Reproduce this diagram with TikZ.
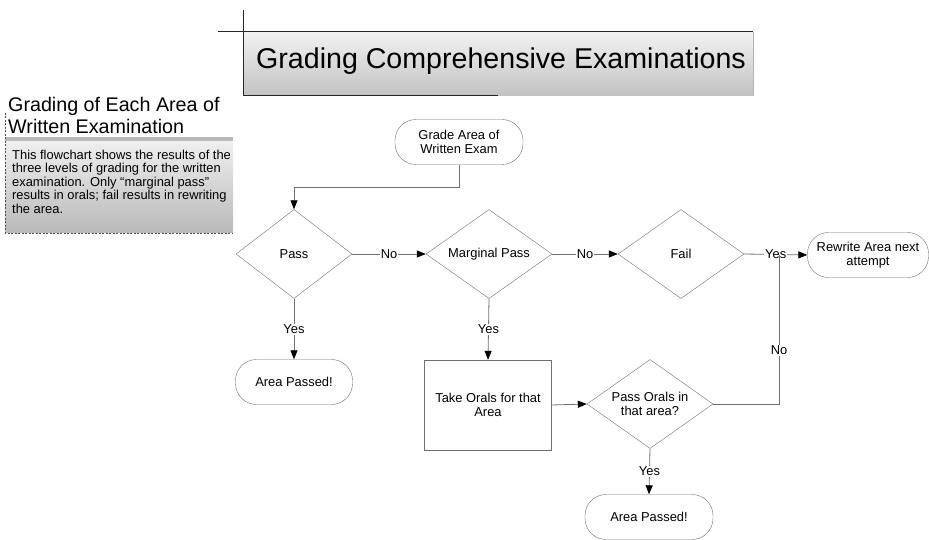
\documentclass[tikz,border=0pt]{standalone}
\usepackage{fontspec}
\setmainfont{Liberation Sans}
\usetikzlibrary{arrows.meta}
\usetikzlibrary{shapes}
\usetikzlibrary{positioning}
\definecolor{lineg}{HTML}{707070}
\providecommand{\bodyfont}{\fontsize{12.9}{14}\selectfont}

\begin{document}
\begin{tikzpicture}[x=1pt,y=-1pt,>={Triangle[length=9pt,width=7pt,color=black]}]
      \useasboundingbox (0,0) rectangle (929,540);
      \tikzstyle{terminal}=[draw=lineg,rectangle,rounded corners=21pt,minimum height=45pt,align=center]
      \tikzstyle{decision}=[draw=lineg,diamond,aspect=1.4,minimum width=126pt,minimum height=89pt,inner sep=0pt,align=center]
      \tikzstyle{process}=[draw=lineg,rectangle,minimum width=127pt,minimum height=90pt,align=center]
      \tikzstyle{conn}=[draw=lineg,line width=0.8pt]
      \tikzstyle{lab}=[fill=white,inner sep=1pt]

      % title banner
      \shade[top color=gray!10,bottom color=gray!48] (243,32) rectangle (753,96);
      \draw[gray!60,line width=0.6pt] (753,32) -- (753,96);
      \draw[black!85,line width=1pt] (218,32) -- (753,32);
      \draw[black!85,line width=1pt] (243,10) -- (243,96);
      \draw[black!85,line width=1pt] (243,96) -- (498,96);
      \node[inner sep=0pt,font=\fontsize{28.6}{32}\selectfont] (title) at (501,61) {Grading Comprehensive Examinations};

      % side note
      \shade[top color=gray!12,bottom color=gray!55] (5,140) rectangle (233,233);
      \fill[gray!55] (5,137.5) rectangle (233,141);
      \draw[black!70,dash pattern=on 2pt off 1.5pt,line width=0.8pt] (5,113) -- (5,233) -- (233,233);
      \node[anchor=north west,inner sep=0pt,align=left,font=\fontsize{19.7}{22}\selectfont] (notehead) at (8,97)
            {Grading of Each Area of\\Written Examination};
      \node[anchor=north west,inner sep=0pt,align=left,font=\fontsize{12.9}{13.4}\selectfont] (notebody) at (12,150)
            {This flowchart shows the results of the\\three levels of grading for the written\\examination. Only ``marginal pass''\\results in orals; fail results in rewriting\\the area.};

      \begin{scope}
          \tikzstyle{every node}=[font=\bodyfont]
          \node[terminal,minimum width=128pt] (start)   at (459,142) {Grade Area of\\Written Exam};
          \node[decision,minimum width=116pt] (pass)    at (294,254) {Pass};
          \node[decision]                     (mpass)   at (489,254) {Marginal Pass};
          \node[decision]                     (fail)    at (681,254) {Fail};
          \node[terminal,minimum width=121pt] (rewrite) at (868,255) {Rewrite Area next\\attempt};
          \node[terminal,minimum width=117pt] (passed1) at (294,382) {Area Passed!};
          \node[process]                      (orals)   at (488,405) {Take Orals for that\\Area};
          \node[decision]                     (porals)  at (650,404) {Pass Orals in\\that area?};
          \node[terminal,minimum width=128pt] (passed2) at (649,517) {Area Passed!};
          \coordinate (join) at (779,255);

          \draw[conn,->] (start.south) -- ++(0,23) -| (pass.north);
          \draw[conn,->] (pass.east)   -- node[lab] {No}  (mpass.west);
          \draw[conn,->] (mpass.east)  -- node[lab] {No}  (fail.west);
          \draw[conn,->] (fail.east)   -- node[lab] {Yes} (rewrite.west);
          \draw[conn,->] (pass.south)  -- node[lab] {Yes} (passed1.north);
          \draw[conn,->] (mpass.south) -- node[lab] {Yes} (orals.north);
          \draw[conn,->] (orals.east)  -- (porals.west);
          \draw[conn,->] (porals.south) -- node[lab] {Yes} (passed2.north);
          \draw[conn] (porals.east) -| node[lab,pos=0.68] {No} (join);
      \end{scope}
\end{tikzpicture}
\end{document}
